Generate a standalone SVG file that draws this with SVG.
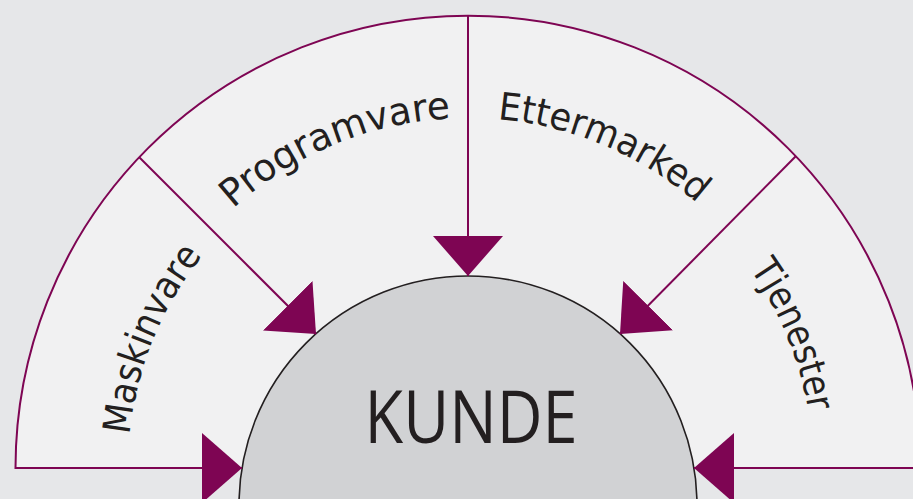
<svg xmlns="http://www.w3.org/2000/svg" xmlns:xlink="http://www.w3.org/1999/xlink" width="913" height="499" viewBox="0 0 913 499">
<style>
.bg{fill:#e6e7e9}
.seg{fill:#f1f1f2;stroke:#7e0553;stroke-width:2}
.conn{stroke:#7e0553;stroke-width:2;fill:none;marker-end:url(#ah)}
.lbl{font-family:"DejaVu Sans","Liberation Sans",sans-serif;font-size:38px;fill:#231f20}
.core{fill:#d1d2d4;stroke:#231f20;stroke-width:1.6}
.coretxt{font-family:"Open Sans","Liberation Sans",sans-serif;font-size:74px;fill:#231f20;text-anchor:middle}
</style>
<defs>
<marker id="ah" markerUnits="userSpaceOnUse" markerWidth="40" markerHeight="70" viewBox="0 -35 40 70" refX="40" refY="0" orient="auto">
<path d="M0,-35 L40,0 L0,35 Z" fill="#7e0553"/>
</marker>
<path id="arcA" d="M128,468 A340,340 0 0 1 808,468"/>
<path id="arcB" d="M118,468 A350,350 0 0 1 818,468"/>
<path id="arcC" d="M123,468 A345,345 0 0 1 813,468"/>
</defs>
<rect class="bg" x="0" y="0" width="913" height="499"/>
<g id="segments">
<path class="seg" d="M15.5,468 A452.5,452.5 0 0 1 920.5,468 Z"/>
</g>
<g id="maskinvare"><text class="lbl"><textPath xlink:href="#arcA" startOffset="12.3%" text-anchor="middle" textLength="196" lengthAdjust="spacingAndGlyphs">Maskinvare</textPath></text></g>
<g id="programvare"><text class="lbl"><textPath xlink:href="#arcB" startOffset="37.5%" text-anchor="middle" textLength="240" lengthAdjust="spacingAndGlyphs">Programvare</textPath></text></g>
<g id="ettermarked"><text class="lbl"><textPath xlink:href="#arcB" startOffset="62.7%" text-anchor="middle" textLength="220" lengthAdjust="spacingAndGlyphs">Ettermarked</textPath></text></g>
<g id="tjenester"><text class="lbl"><textPath xlink:href="#arcC" startOffset="87.6%" text-anchor="middle" textLength="155" lengthAdjust="spacingAndGlyphs">Tjenester</textPath></text></g>
<g id="kunde">
<circle class="core" cx="468" cy="505" r="229"/>
<text class="coretxt" x="471" y="443" textLength="213" lengthAdjust="spacingAndGlyphs">KUNDE</text>
</g>
<g id="connectors">
<line class="conn" x1="16" y1="468" x2="242" y2="468"/>
<line class="conn" x1="139" y1="157" x2="316" y2="334"/>
<line class="conn" x1="468" y1="16" x2="468" y2="276"/>
<line class="conn" x1="796" y1="156" x2="620" y2="334"/>
<line class="conn" x1="920" y1="468" x2="694" y2="468"/>
</g>
</svg>
